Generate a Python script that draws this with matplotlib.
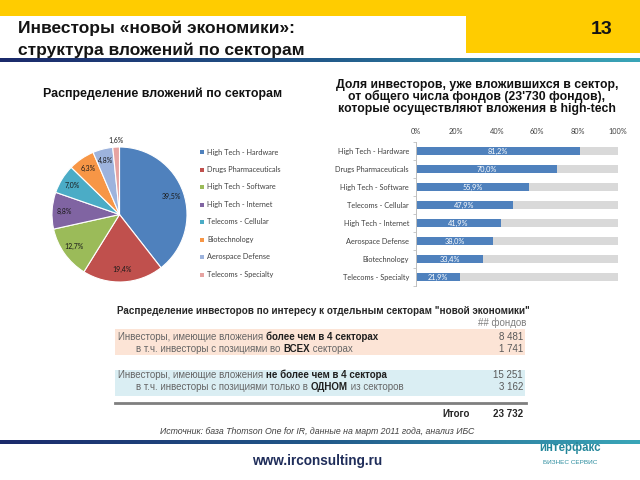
import matplotlib.pyplot as plt
from matplotlib.patches import Rectangle
from matplotlib.colors import LinearSegmentedColormap
import numpy as np

plt.rcParams['font.family'] = ['Liberation Sans', 'DejaVu Sans']

# --- data ---
sectors = ['High Tech - Hardware', 'Drugs Pharmaceuticals', 'High Tech - Software',
           'High Tech - Internet', 'Telecoms - Cellular', 'Biotechnology',
           'Aerospace Defense', 'Telecoms - Specialty']
pie_share = [39.5, 19.4, 12.7, 8.8, 7.0, 6.3, 4.8, 1.6]
pie_colors = ['#4f81bd', '#c0504d', '#9bbb59', '#8064a2', '#4bacc6', '#f79646', '#9db3dd', '#e6a3a1']

bar_sectors = ['High Tech - Hardware', 'Drugs Pharmaceuticals', 'High Tech - Software',
               'Telecoms - Cellular', 'High Tech - Internet', 'Aerospace Defense',
               'Biotechnology', 'Telecoms - Specialty']
bar_share = [81.2, 70.0, 55.9, 47.9, 41.9, 38.0, 33.4, 21.9]
bar_ticks = [0, 20, 40, 60, 80, 100]

table_rows = [
    [('Инвесторы, имеющие вложения ', 'normal'), ('более чем в 4 секторах', 'bold')],
    [('в т.ч. инвесторы с позициями во ', 'normal'), ('ВСЕХ', 'bold'), (' секторах', 'normal')],
    [('Инвесторы, имеющие вложения ', 'normal'), ('не более чем в 4 сектора', 'bold')],
    [('в т.ч. инвесторы с позициями только в ', 'normal'), ('ОДНОМ', 'bold'), (' из секторов', 'normal')],
]
table_values = ['8 481', '1 741', '15 251', '3 162']
total_value = '23 732'


def fmt(v):
    return f'{v:.1f}%'.replace('.', ',')


fig = plt.figure(figsize=(6.4, 4.8), dpi=100)
bg = fig.add_axes([0, 0, 1, 1])
bg.axis('off')
bg.set_zorder(0)


def px_axes(x0, y0, x1, y1):
    a = fig.add_axes([x0 / 640, 1 - y1 / 480, (x1 - x0) / 640, (y1 - y0) / 480])
    a.set_zorder(1)
    a.patch.set_alpha(0)
    return a


# header
bg.add_patch(Rectangle((0, 0), 640, 16, color='#ffcc00', lw=0))
bg.add_patch(Rectangle((466, 0), 174, 53, color='#ffcc00', lw=0))
grad = np.linspace(0, 1, 256).reshape(1, -1)
line_cmap = LinearSegmentedColormap.from_list('ln', ['#1b2a6b', '#22598a', '#3aa6b8'])
bg.imshow(grad, extent=(0, 640, 62, 58), aspect='auto', cmap=line_cmap)
bg.imshow(grad, extent=(0, 640, 444, 440), aspect='auto', cmap=line_cmap)
bg.set_xlim(0, 640)
bg.set_ylim(480, 0)

bg.text(18, 28, 'Инвесторы «новой экономики»:', fontsize=12.5, fontweight='bold',
        color='#141414', va='center')
bg.text(18, 50, 'структура вложений по секторам', fontsize=12.5, fontweight='bold',
        color='#141414', va='center')
bg.text(612, 30, '13', fontsize=14, fontweight='bold', color='#141414', va='center', ha='right')

# subtitles
bg.text(163, 94, 'Распределение вложений по секторам', fontsize=8.9, fontweight='bold',
        ha='center', va='center', color='#111111')
bg.text(477, 97, 'Доля инвесторов, уже вложившихся в сектор,\nот общего числа фондов (23\'730 фондов),\n'
        'которые осуществляют вложения в high-tech', fontsize=8.8, fontweight='bold',
        ha='center', va='center', color='#111111', linespacing=0.93)

# pie
axp = px_axes(52, 147, 187, 282)
wedges, _ = axp.pie(pie_share, colors=pie_colors, startangle=90, counterclock=False,
                    wedgeprops=dict(edgecolor='white', linewidth=0.8))
axp.set_xlim(-1, 1)
axp.set_ylim(-1, 1)
axp.set_aspect('equal')
for w, v in zip(wedges, pie_share):
    ang = np.deg2rad((w.theta1 + w.theta2) / 2)
    r = 1.1 if v < 3 else 0.82
    axp.text(r * np.cos(ang), r * np.sin(ang), fmt(v), fontsize=5, ha='center', va='center',
             color='#1a1a1a', family=['Lato', 'DejaVu Sans'])

# pie legend
for i, (lab, c) in enumerate(zip(sectors, pie_colors)):
    y = 152 + 17.5 * i
    bg.add_patch(Rectangle((200, y - 2), 4, 4, color=c, lw=0))
    bg.text(207, y, lab, fontsize=5.3, color='#404040', va='center',
            family=['Lato', 'DejaVu Sans'])

# bars
axb = px_axes(416, 142, 618, 286)
yy = np.arange(len(bar_sectors))
axb.barh(yy, [100] * len(yy), height=0.42, color='#d9d9d9')
axb.barh(yy, bar_share, height=0.42, color='#4f81bd')
for y, v in zip(yy, bar_share):
    axb.text(v / 2, y, fmt(v), color='white', fontsize=5.3, ha='center', va='center',
             family=['Lato', 'DejaVu Sans'])
axb.set_xlim(0, 100)
axb.set_ylim(len(yy) - 0.5, -0.5)
axb.xaxis.tick_top()
axb.set_xticks(bar_ticks)
axb.set_xticklabels([f'{t}%' for t in bar_ticks], fontsize=5.3, color='#404040',
                    family=['Lato', 'DejaVu Sans'])
axb.set_yticks(yy)
axb.set_yticklabels(bar_sectors, fontsize=5.3, color='#404040', family=['Lato', 'DejaVu Sans'])
axb.set_yticks(np.arange(len(yy) + 1) - 0.5, minor=True)
axb.tick_params(axis='both', which='major', length=0, pad=5)
axb.tick_params(axis='y', which='minor', length=2.5, color='#bfbfbf')
for s in ['top', 'right', 'bottom']:
    axb.spines[s].set_visible(False)
axb.spines['left'].set_color('#bfbfbf')
axb.spines['left'].set_linewidth(0.7)

# table
fig.canvas.draw()
renderer = fig.canvas.get_renderer()

bg.text(117, 311, 'Распределение инвесторов по интересу к отдельным секторам "новой экономики"',
        fontsize=7.1, fontweight='bold', color='#262626', va='center')
bg.text(526, 323, '## фондов', fontsize=7, color='#7f7f7f', va='center', ha='right')
bg.add_patch(Rectangle((115, 329), 410, 26, color='#fce4d6', lw=0))
bg.add_patch(Rectangle((115, 370), 410, 26, color='#daeef3', lw=0))

row_y = [337, 349, 375, 387]
row_x = [118, 136, 118, 136]
for parts, val, x, y in zip(table_rows, table_values, row_x, row_y):
    for txt, wt in parts:
        t = bg.text(x, y, txt, fontsize=7, fontweight=wt, va='center',
                    color='#1f1f1f' if wt == 'bold' else '#666666')
        x += t.get_window_extent(renderer).width
    bg.text(523, y, val, fontsize=7, color='#595959', va='center', ha='right')

bg.plot([115, 526], [403, 403], color='#7f7f7f', lw=2)
bg.text(470, 414, 'Итого', fontsize=7, fontweight='bold', color='#262626', va='center', ha='right')
bg.text(523, 414, total_value, fontsize=7, fontweight='bold', color='#262626', va='center', ha='right')
bg.text(317, 431, 'Источник: база Thomson One for IR, данные на март 2011 года, анализ ИБС',
        fontsize=6.35, fontstyle='italic', color='#404040', va='center', ha='center')

# footer
bg.text(317, 461, 'www.irconsulting.ru', fontsize=9.8, fontweight='bold', color='#1f2d5a',
        va='center', ha='center')
bg.text(570, 448, 'интерфакс', fontsize=8.3, fontweight='bold', color='#23869a', va='center', ha='center')
bg.text(570, 463, 'БИЗНЕС СЕРВИС', fontsize=4.6, color='#2a8c9e', va='center', ha='center')

fig.savefig('out.png', dpi=100)
